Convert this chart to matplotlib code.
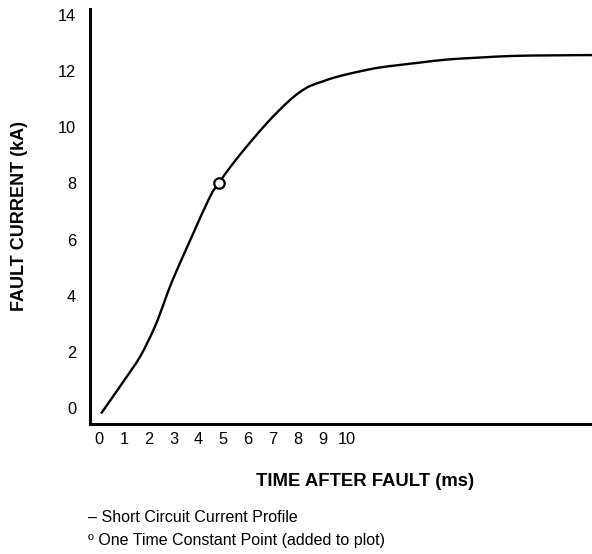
import matplotlib
matplotlib.use("Agg")
import matplotlib.pyplot as plt
from matplotlib.path import Path
from matplotlib.patches import PathPatch
import numpy as np

plt.rcParams['font.family'] = ['Liberation Sans', 'DejaVu Sans']

# Data (time in ms, current in kA)
time_ms = [0.07, 0.97, 1.64, 2.18, 2.45, 2.65, 2.96, 3.70, 4.46, 4.83, 5.40,
           6.10, 6.75, 7.25, 7.69, 8.10, 8.50, 9.00, 9.44, 10.10, 10.78,
           11.32, 12.13, 13.00, 14.01, 15.30, 16.69, 18.30, 19.87]
current_ka = [-0.19, 0.95, 1.83, 2.78, 3.37, 3.85, 4.57, 6.05, 7.52, 8.03, 8.72,
              9.48, 10.14, 10.60, 10.97, 11.26, 11.47, 11.63, 11.76, 11.91, 12.04,
              12.13, 12.22, 12.31, 12.41, 12.48, 12.54, 12.56, 12.57]
tc_time = [4.83]
tc_current = [8.03]

x_ticks = list(range(0, 11))
y_ticks = list(range(0, 15, 2))

fig = plt.figure(figsize=(5.92, 5.54), dpi=100)
ax = fig.add_axes([90/592, 1 - 424/554, 502/592, (424 - 9)/554])

# Smooth curve through the read points (Catmull-Rom -> cubic Bezier segments)
pts = np.column_stack([time_ms, current_ka])
verts = [tuple(pts[0])]
codes = [Path.MOVETO]
n = len(pts)
for i in range(n - 1):
    p0 = pts[i - 1] if i > 0 else pts[i]
    p1 = pts[i]
    p2 = pts[i + 1]
    p3 = pts[i + 2] if i + 2 < n else pts[i + 1]
    c1 = p1 + (p2 - p0) / 6.0
    c2 = p2 - (p3 - p1) / 6.0
    verts += [tuple(c1), tuple(c2), tuple(p2)]
    codes += [Path.CURVE4] * 3
ax.add_patch(PathPatch(Path(verts, codes), facecolor='none', edgecolor='black',
                       lw=1.7, capstyle='butt'))

ax.plot(tc_time, tc_current, marker='o', ms=7.5, mfc='white', mec='black',
        mew=1.6, ls='none', zorder=3)

ax.set_xlim(-0.375, 19.87)
ax.set_ylim(-0.56, 14.21)
ax.set_xticks(x_ticks)
ax.set_yticks(y_ticks)
ax.tick_params(axis='both', length=0, labelsize=11.8)
ax.tick_params(axis='x', pad=6)
ax.tick_params(axis='y', pad=10)

for side in ['top', 'right']:
    ax.spines[side].set_visible(False)
for side in ['left', 'bottom']:
    ax.spines[side].set_linewidth(2.2)

fig.text(365/592, 1 - 481/554, 'TIME AFTER FAULT (ms)', ha='center', va='center',
         fontsize=13.3, fontweight='bold')
fig.text(20/592, 1 - 216/554, 'FAULT CURRENT (kA)', ha='center', va='center',
         rotation=90, fontsize=13, fontweight='bold')

fig.text(88/592, 1 - 518/554, '– Short Circuit Current Profile', ha='left',
         va='center', fontsize=11.5)
fig.text(88/592, 1 - 541/554, 'º One Time Constant Point (added to plot)', ha='left',
         va='center', fontsize=11.5)

fig.savefig('out.png', dpi=100)
